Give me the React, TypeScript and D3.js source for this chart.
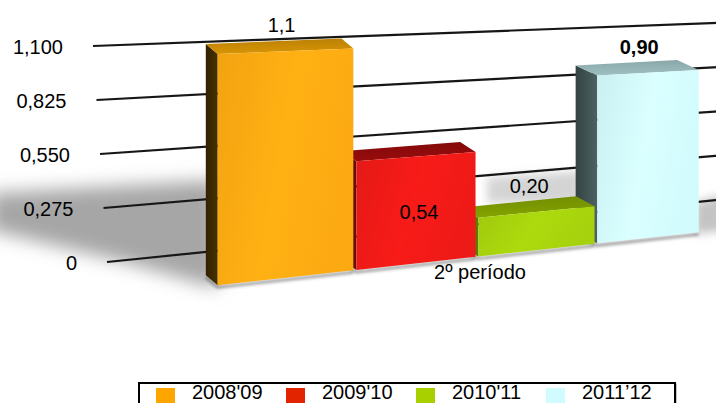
import React from "react";
import * as d3 from "d3";

const categories = ["2008'09", "2009'10", "2010'11", "2011’12"];
const values = [1.1, 0.54, 0.2, 0.9];
const valueLabels = ["1,1", "0,54", "0,20", "0,90"];
const labelBold = [false, false, false, true];
const labelInside = [false, true, false, false];
const tickValues = [0, 0.275, 0.55, 0.825, 1.1];
const tickLabels = ["0", "0,275", "0,550", "0,825", "1,100"];
const axisTitle = "2º período";
const frontColors = ["#FDAA12", "#EE1A17", "#A6D10D", "#D2FBFD"];
const topColors = ["#C98B05", "#8E0B0B", "#7B9900", "#93B3B4"];
const sideColors = ["#3A2800", "#5A0A0A", "#4F6300", "#3E4F50"];
const legendColors = ["#FFA500", "#E32400", "#A8D000", "#D0FCFF"];

const W = 716;
const H = 403;
const FONT = "'Liberation Sans', Arial, sans-serif";

// back-wall gridline perspective
const yLeft = d3.scaleLinear().domain([0, 1.1]).range([262, 46]);
const yRight = d3.scaleLinear().domain([0, 1.1]).range([200, 23]);
const xLeft = d3.scaleLinear().domain([0, 1.1]).range([107, 93]);
const xRightEnd = 722;

// front plane perspective for bars
const xEdge = d3.scaleLinear().domain([0, 1, 2, 3, 4]).range([216, 355, 477, 596, 700]);
const baseAt = d3.scaleLinear().domain([220, 700]).range([285, 232]);
const unitAt = d3.scaleLinear().domain([220, 700]).range([210, 180]);
const depthX = d3.scaleLinear().domain([216, 700]).range([-10, -23]);
const depthY = -10;
const pad = 0.012;

const legendX = d3.scaleLinear().domain([0, 4]).range([156, 676]);

type Bar = {
  i: number;
  xl: number; xr: number;
  yBl: number; yBr: number;
  yTl: number; yTr: number;
  dx: number; dy: number;
};

const bars: Bar[] = values.map((v, i) => {
  const xl = xEdge(i + pad);
  const xr = xEdge(i + 1 - pad);
  const yBl = baseAt(xl);
  const yBr = baseAt(xr);
  const yTl = yBl - v * unitAt(xl);
  const yTr = yBr - v * unitAt(xr);
  const dx = depthX((xl + xr) / 2);
  return { i, xl, xr, yBl, yBr, yTl, yTr, dx, dy: depthY };
});

const pts = (a: [number, number][]) => a.map((p) => p.join(",")).join(" ");

export default function App() {
  const gridLine = d3.line<[number, number]>();
  const b0 = bars[0];
  const b3 = bars[3];
  return (
    <div style={{ position: "fixed", left: 0, top: 0, width: W, height: H, background: "#fff" }}>
      <svg width={W} height={H} viewBox={`0 0 ${W} ${H}`} style={{ display: "block" }}>
        <defs>
          <filter id="blurBig" x="-50%" y="-50%" width="200%" height="200%">
            <feGaussianBlur stdDeviation="9" />
          </filter>
          <filter id="blurMid" x="-50%" y="-50%" width="200%" height="200%">
            <feGaussianBlur stdDeviation="5" />
          </filter>
          <filter id="blurSmall" x="-20%" y="-50%" width="140%" height="200%">
            <feGaussianBlur stdDeviation="1.5" />
          </filter>
          <filter id="blurLine" x="-5%" y="-200%" width="110%" height="500%">
            <feGaussianBlur stdDeviation="0.5" />
          </filter>
          {bars.map((b) => {
            const c = d3.color(frontColors[b.i])!;
            return (
              <linearGradient key={"fg" + b.i} id={"front" + b.i} x1="0" y1="0" x2="1" y2="0.3">
                <stop offset="0" stopColor={c.darker(0.12).formatHex()} />
                <stop offset="0.55" stopColor={c.brighter(0.12).formatHex()} />
                <stop offset="1" stopColor={c.formatHex()} />
              </linearGradient>
            );
          })}
          {bars.map((b) => {
            const c = d3.color(sideColors[b.i])!;
            return (
              <linearGradient key={"sg" + b.i} id={"side" + b.i} x1="0" y1="0" x2="1" y2="0">
                <stop offset="0" stopColor={c.darker(0.5).formatHex()} />
                <stop offset="1" stopColor={c.brighter(0.6).formatHex()} />
              </linearGradient>
            );
          })}
          {bars.map((b) => {
            const c = d3.color(topColors[b.i])!;
            return (
              <linearGradient key={"tg" + b.i} id={"top" + b.i} x1="0" y1="1" x2="0" y2="0">
                <stop offset="0" stopColor={c.brighter(0.2).formatHex()} />
                <stop offset="1" stopColor={c.darker(0.2).formatHex()} />
              </linearGradient>
            );
          })}
        </defs>

        {/* cast shadows */}
        <polygon
          points={pts([
            [b0.xl, b0.yBl - 105],
            [-10, b0.yBl - 92],
            [-10, b0.yBl - 55],
            [b0.xl - 100, b0.yBl - 25],
            [b0.xl, b0.yBl + 3],
          ])}
          fill="#a6a6a6"
          filter="url(#blurBig)"
        />
        <polygon
          points={pts([
            [b3.xl - 15, b3.yBl - 72],
            [b3.xl - 110, b3.yBl - 66],
            [b3.xl - 110, b3.yBl - 40],
            [b3.xl - 15, b3.yBl - 40],
          ])}
          fill="#d4d4d4"
          filter="url(#blurMid)"
        />
        <polygon
          points={pts([
            [b3.xr - 4, b3.yBr - 30],
            [W + 10, b3.yBr - 38],
            [W + 10, b3.yBr - 2],
            [b3.xr - 4, b3.yBr + 2],
          ])}
          fill="#c4c4c4"
          filter="url(#blurMid)"
        />

        {/* gridlines */}
        <g filter="url(#blurLine)">
          {tickValues.map((v, k) => (
            <path
              key={"g" + k}
              d={gridLine([
                [xLeft(v), yLeft(v)],
                [xRightEnd, yRight(v) - (yLeft(v) - yRight(v)) * ((xRightEnd - 716) / (716 - xLeft(v)))],
              ]) || ""}
              stroke="#151515"
              strokeWidth={2.2}
              fill="none"
            />
          ))}
        </g>

        {/* tick labels */}
        {tickValues.map((v, k) => (
          <text
            key={"t" + k}
            x={xLeft(v) - 30}
            y={yLeft(v) + 7.5}
            textAnchor="end"
            fontFamily={FONT}
            fontSize={20}
            fill="#000"
          >
            {tickLabels[k]}
          </text>
        ))}

        {/* bars, drawn back (right) to front (left) */}
        {[...bars].reverse().map((b) => (
          <g key={"b" + b.i}>
            <polyline
              points={pts([
                [b.xl + b.dx, b.yBl + b.dy + 2],
                [b.xl, b.yBl + 2],
                [b.xr, b.yBr + 2],
              ])}
              fill="none"
              stroke="#444"
              strokeOpacity={0.5}
              strokeWidth={3}
              filter="url(#blurSmall)"
            />
            <polygon
              points={pts([
                [b.xl, b.yTl],
                [b.xl + b.dx, b.yTl + b.dy],
                [b.xl + b.dx, b.yBl + b.dy],
                [b.xl, b.yBl],
              ])}
              fill={`url(#side${b.i})`}
            />
            <polygon
              points={pts([
                [b.xl, b.yTl],
                [b.xr, b.yTr],
                [b.xr + b.dx, b.yTr + b.dy],
                [b.xl + b.dx, b.yTl + b.dy],
              ])}
              fill={`url(#top${b.i})`}
            />
            <polygon
              points={pts([
                [b.xl, b.yTl],
                [b.xr, b.yTr],
                [b.xr, b.yBr],
                [b.xl, b.yBl],
              ])}
              fill={`url(#front${b.i})`}
            />
          </g>
        ))}

        {/* value labels */}
        {bars.map((b) => {
          const xc = (b.xl + b.xr) / 2;
          const yTopC = (b.yTl + b.yTr) / 2;
          const yBaseC = (b.yBl + b.yBr) / 2;
          const y = labelInside[b.i] ? yBaseC - 44 : yTopC + b.dy - 9;
          return (
            <text
              key={"vl" + b.i}
              x={xc + (labelInside[b.i] ? 3 : b.dx / 2 + 2)}
              y={y}
              textAnchor="middle"
              fontFamily={FONT}
              fontSize={20}
              fontWeight={labelBold[b.i] ? "bold" : "normal"}
              fill="#000"
            >
              {valueLabels[b.i]}
            </text>
          );
        })}

        {/* category axis title */}
        <text
          x={xEdge(2) + 3}
          y={baseAt(xEdge(2)) + 22}
          textAnchor="middle"
          fontFamily={FONT}
          fontSize={20}
          fill="#000"
        >
          {axisTitle}
        </text>

        {/* legend */}
        <rect x={139} y={383} width={536} height={40} fill="#fff" stroke="#888" strokeWidth={1} transform="translate(1,1)" />
        <rect x={139} y={383} width={536} height={40} fill="#fff" stroke="#000" strokeWidth={2} />
        {categories.map((c, i) => (
          <g key={"lg" + i}>
            <rect x={legendX(i)} y={388} width={19} height={20} fill={legendColors[i]} />
            <text x={legendX(i) + 36} y={399} fontFamily={FONT} fontSize={20} fill="#000">
              {c}
            </text>
          </g>
        ))}
      </svg>
    </div>
  );
}
